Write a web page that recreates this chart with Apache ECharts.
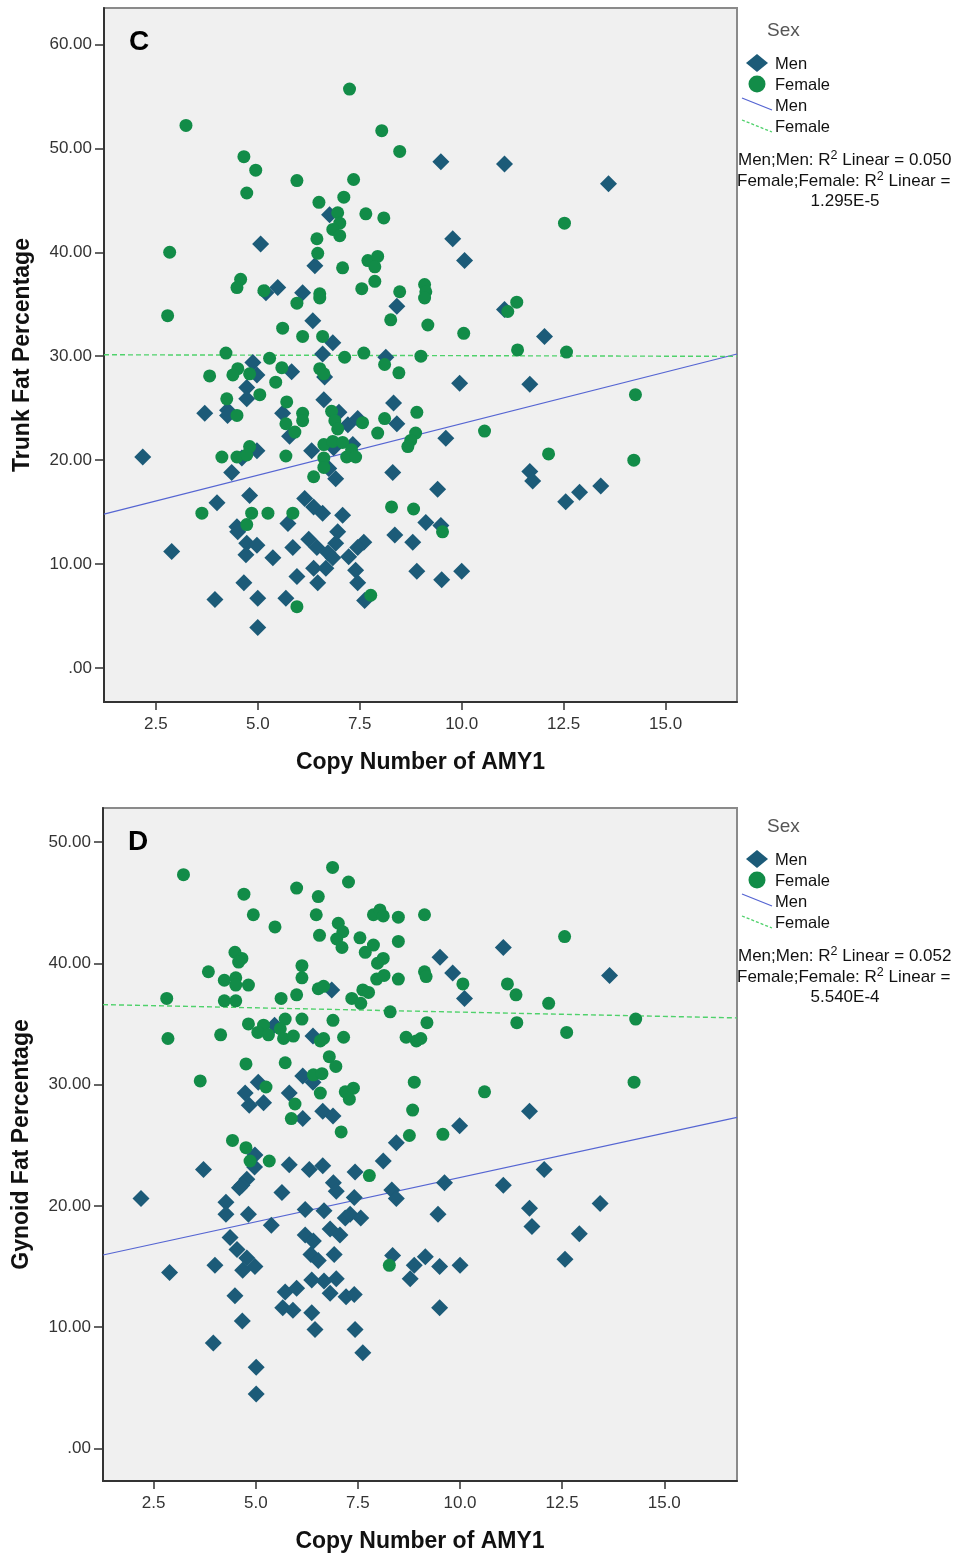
<!DOCTYPE html>
<html>
<head>
<meta charset="utf-8">
<script src="https://cdn.jsdelivr.net/npm/echarts@6/dist/echarts.min.js"></script>
<style>
  html, body { margin: 0; padding: 0; background: #ffffff; }
  #chart { width: 958px; height: 1553px; }
</style>
</head>
<body>
<div id="chart"></div>
<script>
// ---- Panel C: trunk fat percentage vs AMY1 copy number ----
const trunkMen = [
  [5.07,40.8],[5.49,36.6],[5.20,36.1],[6.10,36.1],[4.88,29.4],
  [9.49,48.7],[11.05,48.5],[6.76,43.6],[9.78,41.3],[10.07,39.2],[6.40,38.7],[8.41,34.8],[11.05,34.5],[6.35,33.4],[6.84,31.3],[6.59,30.2],[8.14,29.9],
  [13.60,46.6],[12.03,31.9],[11.67,27.3],[11.67,18.9],[11.74,18.0],[12.55,16.0],[12.89,16.9],[13.41,17.5],
  [4.98,28.2],[5.83,28.5],[4.73,27.0],[4.73,25.9],[3.70,24.5],[4.26,24.8],[4.26,24.3],[5.61,24.5],[5.78,22.3],[4.98,20.9],[4.61,20.2],[2.18,20.3],[4.36,18.8],[4.80,16.6],[4.00,15.9],[5.74,13.9],[4.49,13.6],[4.51,13.1],[4.73,12.0],[4.98,11.8],[2.89,11.2],[4.71,10.9],[5.37,10.6],[5.86,11.6],[5.96,8.8],[4.66,8.2],[3.95,6.6],[5.00,6.7],[5.69,6.7],[5.00,3.9],
  [6.64,28.0],[9.95,27.4],[6.62,25.8],[6.99,24.6],[7.21,23.4],[7.45,24.0],[8.33,25.5],[8.41,23.5],[7.33,21.5],[6.32,20.9],[6.86,21.2],[6.74,19.2],[6.91,18.2],[9.61,22.1],[8.31,18.8],[9.41,17.2],[6.15,16.3],[6.37,15.5],[6.59,14.9],[7.08,14.7],[9.12,14.0],[9.49,13.7],[6.96,13.1],[6.25,12.4],[6.91,12.0],[7.60,12.1],[7.45,11.6],[6.45,11.6],[6.72,11.1],[6.84,10.6],[7.23,10.7],[6.37,9.6],[6.67,9.6],[7.40,9.4],[6.47,8.2],[7.45,8.2],[8.36,12.8],[8.80,12.1],[8.90,9.3],[9.51,8.5],[10.00,9.3],[7.62,6.5]
];
const trunkFemale = [
  [3.24,52.2],[4.66,49.2],[4.95,47.9],[5.96,46.9],[4.73,45.7],[2.84,40.0],[4.58,37.4],[4.49,36.6],[5.15,36.3],[5.96,35.1],[2.79,33.9],[5.61,32.7],[6.10,31.9],[4.22,30.3],[5.29,29.8],
  [7.25,55.7],[8.04,51.7],[8.48,49.7],[7.35,47.0],[7.11,45.3],[6.50,44.8],[6.96,43.8],[7.01,42.8],[6.84,42.2],[7.01,41.6],[7.65,43.7],[8.09,43.3],[6.45,41.3],[6.47,39.9],[7.08,38.5],[7.70,39.2],[7.94,39.6],[7.87,38.6],[7.87,37.2],[7.55,36.5],[6.52,36.0],[6.52,35.6],[8.48,36.2],[9.09,36.9],[9.12,36.2],[9.09,35.6],[8.26,33.5],[9.17,33.0],[10.05,32.2],[6.59,31.9],[7.60,30.3],[7.13,29.9],[9.00,30.0],
  [12.52,42.8],[11.35,35.2],[11.13,34.3],[11.37,30.6],[12.57,30.4],[14.26,26.3],[12.13,20.6],[14.22,20.0],[10.56,22.8],
  [5.59,28.9],[3.82,28.1],[4.51,28.8],[4.39,28.2],[4.80,28.3],[5.44,27.5],[5.05,26.3],[4.24,25.9],[4.49,24.3],[5.71,25.6],[5.69,23.5],[5.91,22.7],[4.80,21.3],[4.12,20.3],[4.49,20.3],[4.73,20.5],[5.69,20.4],[3.63,14.9],[4.85,14.9],[5.25,14.9],[5.86,14.9],[4.73,13.8],[5.96,5.9],
  [8.11,29.2],[6.52,28.8],[6.62,28.3],[8.46,28.4],[6.10,24.5],[6.10,23.8],[6.81,24.7],[6.89,23.8],[6.96,23.0],[7.57,23.6],[8.11,24.0],[7.94,22.6],[8.90,24.6],[8.87,22.6],[8.75,21.9],[8.68,21.3],[6.62,21.5],[6.84,21.8],[7.08,21.7],[7.30,21.0],[7.18,20.3],[7.40,20.3],[6.62,20.2],[6.62,19.3],[6.37,18.4],[8.28,15.5],[8.82,15.3],[9.53,13.1],[7.77,7.0]
];

// ---- Panel D: gynoid fat percentage vs AMY1 copy number ----
const gynoidMen = [
  [5.46,34.9],[5.06,30.2],[4.74,29.3],[5.82,29.3],[5.19,28.5],[4.84,28.3],[6.15,30.7],[6.15,27.2],
  [9.51,40.5],[9.82,39.2],[10.11,37.1],[11.06,41.3],[6.86,37.8],[6.40,34.0],[6.40,30.2],[6.64,27.8],[6.89,27.4],[8.44,25.2],[9.99,26.6],
  [13.66,39.0],[11.70,27.8],[12.06,23.0],[11.06,21.7],[11.70,19.8],[11.76,18.3],[13.43,20.2],[12.92,17.7],[12.57,15.6],
  [4.98,24.2],[4.97,23.2],[3.72,23.0],[5.82,23.4],[4.78,22.2],[4.66,21.7],[4.60,21.5],[2.19,20.6],[4.27,20.3],[4.27,19.3],[4.82,19.3],[5.64,21.1],[5.38,18.4],[4.37,17.4],[4.54,16.4],[4.78,15.7],[4.98,15.0],[4.68,14.7],[4.00,15.1],[2.89,14.5],[4.49,12.6],[5.72,12.9],[6.00,13.2],[5.66,11.6],[5.91,11.4],[4.67,10.5],[3.96,8.7],[5.01,6.7],[5.01,4.5],[6.21,17.6],
  [8.12,23.7],[6.31,23.0],[6.64,23.3],[7.43,22.8],[6.90,21.9],[6.97,21.2],[7.41,20.7],[8.33,21.3],[8.44,20.6],[9.62,21.9],[6.21,19.7],[6.67,19.6],[7.19,19.0],[7.31,19.3],[7.57,19.0],[9.46,19.3],[6.41,17.1],[6.82,18.1],[7.06,17.6],[6.92,16.0],[6.35,16.0],[6.53,15.5],[8.35,15.9],[8.88,15.1],[9.15,15.8],[9.50,15.0],[10.00,15.1],[8.78,14.0],[6.37,13.9],[6.67,13.8],[6.97,14.0],[6.82,12.8],[7.21,12.5],[7.41,12.7],[6.37,11.2],[9.50,11.6],[6.45,9.8],[7.43,9.8],[7.62,7.9]
];
const gynoidFemale = [
  [3.23,47.3],[4.71,45.7],[4.94,44.0],[5.47,43.0],[6.00,46.2],[4.49,40.9],[4.66,40.4],[4.58,40.1],[3.84,39.3],[4.23,38.6],[4.51,38.8],[4.51,38.2],[4.82,38.2],[2.82,37.1],[4.23,36.9],[4.51,36.9],[5.62,37.1],[6.00,37.4],[6.13,39.8],[6.13,38.8],[4.82,35.0],[5.72,35.4],[6.13,35.4],[5.19,34.9],[5.05,34.3],[5.31,34.1],[5.60,34.6],[5.68,33.8],[5.92,34.0],[2.85,33.8],[4.14,34.1],[4.76,31.7],[5.72,31.8],[3.64,30.3],[5.25,29.8],[5.96,28.4],[5.87,27.2],[4.43,25.4],[4.76,24.8],
  [6.88,47.9],[7.27,46.7],[6.53,45.5],[6.48,44.0],[7.88,44.0],[8.04,44.4],[8.12,43.9],[8.49,43.8],[9.13,44.0],[7.02,43.3],[7.13,42.6],[6.56,42.3],[6.98,42.0],[7.11,41.3],[7.55,42.1],[7.88,41.5],[7.68,40.9],[8.49,41.8],[8.12,40.4],[7.98,40.0],[7.96,38.7],[8.14,39.0],[8.49,38.7],[9.13,39.3],[9.17,38.9],[10.07,38.3],[6.53,37.9],[6.66,38.1],[7.35,37.1],[7.62,37.8],[7.76,37.6],[7.57,36.7],[8.29,36.0],[6.89,35.3],[9.19,35.1],[6.58,33.6],[6.66,33.8],[7.15,33.9],[8.68,33.9],[8.93,33.6],[9.04,33.8],[6.80,32.3],[6.96,31.5],[6.41,30.8],[6.62,30.9],[8.88,30.2],[10.60,29.4],[6.58,29.3],[7.19,29.4],[7.39,29.7],[7.29,28.8],[8.84,27.9],[7.09,26.1],[8.76,25.8],[9.58,25.9],
  [12.56,42.2],[11.16,38.3],[11.37,37.4],[12.17,36.7],[11.39,35.1],[12.61,34.3],[14.30,35.4],[14.26,30.2],
  [4.86,23.7],[5.33,23.7],[7.78,22.5],[8.27,15.1]
];

// Linear fit lines: [intercept, slope]
const trunkFitMen = [13.58, 0.993];
const trunkFitFemale = [30.15, -0.01];
const gynoidFitMen = [15.03, 0.731];
const gynoidFitFemale = [36.68, -0.0706];

// Tick values and legend statistics
const xTicks = [2.5, 5, 7.5, 10, 12.5, 15];
const trunkTicks = [0, 10, 20, 30, 40, 50, 60];
const gynoidTicks = [0, 10, 20, 30, 40, 50];
const r2Men = ['0.050', '0.052'];
const r2Female = ['1.295E-5', '5.540E-4'];

const FONT = '"Liberation Sans", Arial, Helvetica, sans-serif';
const MEN_COLOR = '#1c5b78';
const FEMALE_COLOR = '#128c48';
const MEN_LINE = '#5565d2';
const FEMALE_LINE = '#4fd16b';

const panels = [
  { letter: 'C', yName: 'Trunk Fat Percentage', grid: { left: 104, top: 8, width: 633, height: 694 },
    xRange: [1.23, 16.75], yRange: [-3.27, 63.5], yTicks: trunkTicks,
    men: trunkMen, female: trunkFemale, fitMen: trunkFitMen, fitFemale: trunkFitFemale, legendTop: 0 },
  { letter: 'D', yName: 'Gynoid Fat Percentage', grid: { left: 103, top: 808, width: 634, height: 673 },
    xRange: [1.26, 16.78], yRange: [-2.68, 52.8], yTicks: gynoidTicks,
    men: gynoidMen, female: gynoidFemale, fitMen: gynoidFitMen, fitFemale: gynoidFitFemale, legendTop: 796 }
];

function fitPoints(fit, range) {
  return range.map(x => [x, fit[0] + fit[1] * x]);
}

const grids = [], xAxes = [], yAxes = [], series = [], graphics = [];

panels.forEach((p, i) => {
  grids.push(Object.assign({
    show: true, backgroundColor: '#f0f0f0', borderColor: '#8a8a8a', borderWidth: 2,
    containLabel: false, outerBoundsMode: 'none'
  }, p.grid));

  xAxes.push({
    gridIndex: i, type: 'value', min: p.xRange[0], max: p.xRange[1],
    name: 'Copy Number of AMY1', nameLocation: 'middle', nameGap: 49,
    nameTextStyle: { fontFamily: FONT, fontSize: 23, fontWeight: 'bold', color: '#111' },
    axisLine: { show: true, onZero: false, lineStyle: { color: '#333', width: 2 } },
    axisTick: { show: true, customValues: xTicks, length: 8, lineStyle: { color: '#333', width: 1.5 } },
    axisLabel: { customValues: xTicks, margin: 14, fontFamily: FONT, fontSize: 17, color: '#333',
                 formatter: v => v.toFixed(1) },
    splitLine: { show: false }
  });

  yAxes.push({
    gridIndex: i, type: 'value', min: p.yRange[0], max: p.yRange[1],
    name: p.yName, nameLocation: 'middle', nameGap: 70, nameRotate: 90,
    nameTextStyle: { fontFamily: FONT, fontSize: 23, fontWeight: 'bold', color: '#111' },
    axisLine: { show: true, onZero: false, lineStyle: { color: '#333', width: 2 } },
    axisTick: { show: true, customValues: p.yTicks, length: 9, lineStyle: { color: '#333', width: 1.5 } },
    axisLabel: { customValues: p.yTicks, margin: 12, fontFamily: FONT, fontSize: 17, color: '#333',
                 formatter: v => v === 0 ? '.00' : v.toFixed(2) },
    splitLine: { show: false }
  });

  series.push({
    type: 'line', xAxisIndex: i, yAxisIndex: i, data: fitPoints(p.fitMen, p.xRange),
    symbol: 'none', silent: true, z: 2, lineStyle: { color: MEN_LINE, width: 1.2 }
  });
  series.push({
    type: 'line', xAxisIndex: i, yAxisIndex: i, data: fitPoints(p.fitFemale, p.xRange),
    symbol: 'none', silent: true, z: 2, lineStyle: { color: FEMALE_LINE, width: 1.4, type: [5, 3] }
  });
  series.push({
    type: 'scatter', xAxisIndex: i, yAxisIndex: i, data: p.men, symbol: 'diamond',
    symbolSize: 17, z: 3, itemStyle: { color: MEN_COLOR, opacity: 1 }
  });
  series.push({
    type: 'scatter', xAxisIndex: i, yAxisIndex: i, data: p.female, symbol: 'circle',
    symbolSize: 13, z: 4, itemStyle: { color: FEMALE_COLOR, opacity: 1 }
  });

  // panel letter
  graphics.push({
    type: 'text', x: p.grid.left + 25, y: p.grid.top + 34, z: 10,
    style: { text: p.letter, fontFamily: FONT, fontSize: 28, fontWeight: 'bold', fill: '#000',
             verticalAlign: 'middle' }
  });

  // legend block on the right
  const t = p.legendTop;
  const txt = (x, y, s, size, color) => ({
    type: 'text', x: x, y: y, z: 10,
    style: { text: s, fontFamily: FONT, fontSize: size, fill: color || '#111', verticalAlign: 'middle' }
  });
  graphics.push(txt(767, t + 31, 'Sex', 19, '#555'));
  graphics.push({ type: 'polygon', z: 10, shape: { points: [[746, t + 63], [757, t + 54], [768, t + 63], [757, t + 72]] },
                  style: { fill: MEN_COLOR } });
  graphics.push(txt(775, t + 64, 'Men', 16.5));
  graphics.push({ type: 'circle', z: 10, shape: { cx: 757, cy: t + 84, r: 8.5 }, style: { fill: FEMALE_COLOR } });
  graphics.push(txt(775, t + 85, 'Female', 16.5));
  graphics.push({ type: 'line', z: 10, shape: { x1: 742, y1: t + 98, x2: 772, y2: t + 110 },
                  style: { stroke: MEN_LINE, lineWidth: 1.3 } });
  graphics.push(txt(775, t + 106, 'Men', 16.5));
  graphics.push({ type: 'line', z: 10, shape: { x1: 742, y1: t + 120, x2: 772, y2: t + 132 },
                  style: { stroke: FEMALE_LINE, lineWidth: 1.3, lineDash: [3, 2] } });
  graphics.push(txt(775, t + 127, 'Female', 16.5));

  const rich = {
    a: { fontFamily: FONT, fontSize: 17, fill: '#111', lineHeight: 20, verticalAlign: 'bottom' },
    s: { fontFamily: FONT, fontSize: 12.5, fill: '#111', lineHeight: 20, verticalAlign: 'top' }
  };
  graphics.push({ type: 'text', x: 738, y: t + 159, z: 10,
    style: { text: '{a|Men;Men: R}{s|2}{a| Linear = ' + r2Men[i] + '}', rich: rich, verticalAlign: 'middle' } });
  graphics.push({ type: 'text', x: 737, y: t + 180, z: 10,
    style: { text: '{a|Female;Female: R}{s|2}{a| Linear =}', rich: rich, verticalAlign: 'middle' } });
  graphics.push({ type: 'text', x: 845, y: t + 201, z: 10,
    style: { text: r2Female[i], fontFamily: FONT, fontSize: 17, fill: '#111', align: 'center', verticalAlign: 'middle' } });
});

const chart = echarts.init(document.getElementById('chart'), null, { renderer: 'canvas' });
chart.setOption({
  backgroundColor: '#ffffff',
  animation: false,
  grid: grids,
  xAxis: xAxes,
  yAxis: yAxes,
  series: series,
  graphic: graphics
});
</script>
</body>
</html>
